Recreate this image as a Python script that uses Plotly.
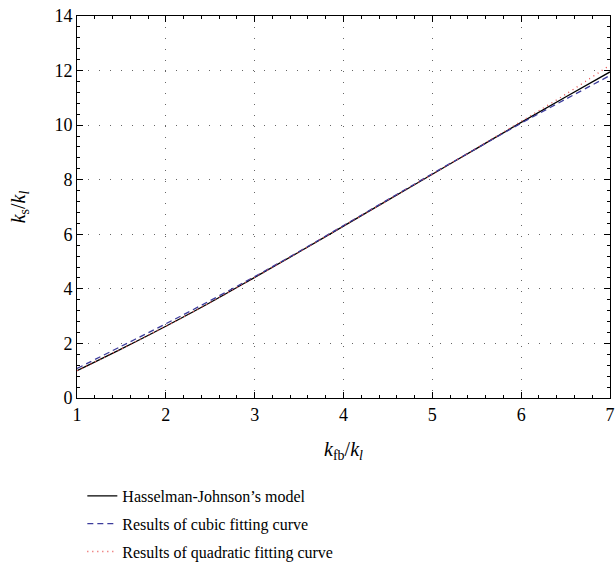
import plotly.graph_objects as go

x_vals = [1.0, 1.5, 2.0, 2.5, 3.0, 3.5, 4.0, 4.5, 5.0, 5.5, 6.0, 6.5, 7.0]
hj_model = [1.0, 1.80, 2.63, 3.50, 4.42, 5.35, 6.30, 7.25, 8.20, 9.15, 10.10, 11.03, 11.95]
cubic_fit = [1.08, 1.90, 2.72, 3.57, 4.45, 5.37, 6.32, 7.27, 8.22, 9.15, 10.07, 10.95, 11.82]
quad_fit = [1.0, 1.80, 2.63, 3.50, 4.42, 5.35, 6.30, 7.25, 8.20, 9.16, 10.14, 11.13, 12.20]

names = ["Hasselman-Johnson\u2019s model", "Results of cubic fitting curve",
         "Results of quadratic fitting curve"]

font_family = "'Liberation Serif', 'DejaVu Serif', serif"

fig = go.Figure()
fig.add_trace(go.Scatter(x=x_vals, y=hj_model, mode="lines", name=names[0], legendgroup="a",
                         line=dict(color="black", width=1.3, shape="spline")))
fig.add_trace(go.Scatter(x=x_vals, y=cubic_fit, mode="lines", name=names[1], legendgroup="b",
                         line=dict(color="#3c3c9c", width=1.3, dash="6px,4px", shape="spline")))
fig.add_trace(go.Scatter(x=x_vals, y=quad_fit, mode="lines", name=names[2], legendgroup="c",
                         line=dict(color="#e85050", width=1.3, dash="1px,4px", shape="spline")))

axis_common = dict(
    showline=True, linecolor="black", linewidth=1, mirror="ticks",
    ticks="inside", ticklen=6, tickcolor="black",
    showgrid=True, gridcolor="#666666", griddash="1px,10px", gridwidth=1,
    zeroline=False, automargin=False, ticklabeloverflow="allow",
    tickfont=dict(family=font_family, size=18, color="black"),
)

fig.update_xaxes(range=[1, 7], dtick=1, tick0=1,
                 minor=dict(dtick=0.2, ticks="inside", ticklen=3, tickcolor="black", showgrid=False),
                 title=dict(text="<i>k</i><sub>fb</sub>/<i>k</i><sub><i>l</i></sub>",
                            font=dict(family=font_family, size=20, color="black"), standoff=18),
                 **axis_common)
fig.update_yaxes(range=[0, 14], dtick=2, tick0=0,
                 minor=dict(dtick=0.4, ticks="inside", ticklen=3, tickcolor="black", showgrid=False),
                 title=dict(text="<i>k</i><sub>s</sub>/<i>k</i><sub><i>l</i></sub>",
                            font=dict(family=font_family, size=20, color="black"), standoff=23),
                 **axis_common)

fig.update_layout(
    width=616, height=575,
    margin=dict(l=77, r=6, t=16, b=158),
    paper_bgcolor="white", plot_bgcolor="white",
    showlegend=True,
    legend=dict(x=0.01, y=-0.212, xanchor="left", yanchor="top",
                font=dict(family=font_family, size=16, color="black"),
                bgcolor="rgba(0,0,0,0)", tracegroupgap=4, itemwidth=30),
)

page_fix = (
    "document.documentElement.style.margin='0';"
    "document.documentElement.style.height='575px';"
    "document.documentElement.style.overflow='hidden';"
    "document.body.style.margin='0';"
    "document.body.style.height='575px';"
    "document.body.style.overflow='hidden';"
    "var d=document.getElementsByClassName('plotly-graph-div')[0];"
    "d.style.position='fixed';d.style.left='0px';d.style.top='0px';"
)

fig.write_html("out.html", config={"displayModeBar": False}, post_script=page_fix)
